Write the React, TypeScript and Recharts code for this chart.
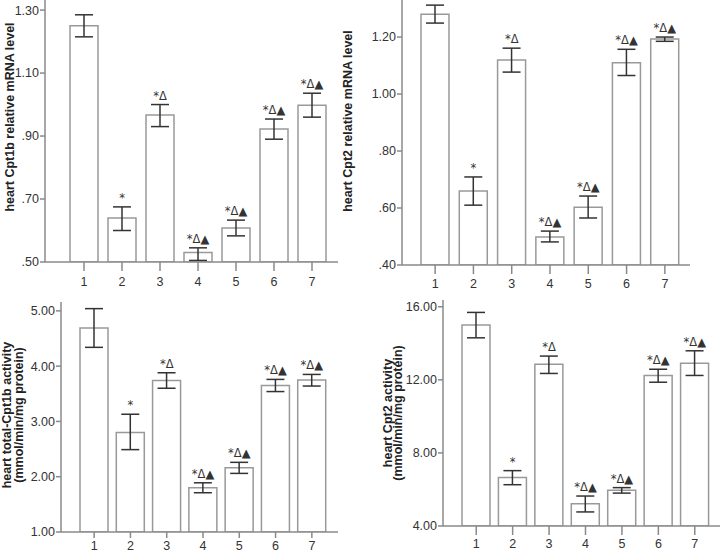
import React from 'react';
import { ComposedChart, Bar, ErrorBar, Line, LabelList, XAxis, YAxis } from 'recharts';

const groups = ['1', '2', '3', '4', '5', '6', '7'];
const marks = ['', '*', '*Δ', '*Δ▲', '*Δ▲', '*Δ▲', '*Δ▲'];

// heart Cpt1b relative mRNA level
const cpt1bMrna = [1.25, 0.64, 0.967, 0.53, 0.608, 0.922, 0.998];
const cpt1bMrnaHigh = [1.285, 0.675, 1.0, 0.545, 0.633, 0.954, 1.036];
const cpt1bMrnaLow = [1.215, 0.6, 0.93, 0.505, 0.583, 0.89, 0.96];
const cpt1bMrnaTicks = [0.5, 0.7, 0.9, 1.1, 1.3];

// heart Cpt2 relative mRNA level
const cpt2Mrna = [1.28, 0.66, 1.119, 0.498, 0.603, 1.11, 1.193];
const cpt2MrnaHigh = [1.312, 0.709, 1.161, 0.519, 0.642, 1.157, 1.2];
const cpt2MrnaLow = [1.249, 0.61, 1.077, 0.481, 0.565, 1.065, 1.185];
const cpt2MrnaTicks = [0.4, 0.6, 0.8, 1.0, 1.2];

// heart total-Cpt1b activity
const cpt1bAct = [4.69, 2.8, 3.74, 1.8, 2.16, 3.65, 3.75];
const cpt1bActHigh = [5.04, 3.13, 3.88, 1.89, 2.26, 3.76, 3.85];
const cpt1bActLow = [4.34, 2.49, 3.6, 1.71, 2.06, 3.54, 3.64];
const cpt1bActTicks = [1, 2, 3, 4, 5];

// heart Cpt2 activity
const cpt2Act = [15.0, 6.65, 12.86, 5.22, 5.95, 12.24, 12.91];
const cpt2ActHigh = [15.69, 7.03, 13.3, 5.64, 6.1, 12.58, 13.59];
const cpt2ActLow = [14.3, 6.26, 12.35, 4.77, 5.8, 11.87, 12.24];
const cpt2ActTicks = [4, 8, 12, 16];

const FONT = '"Liberation Sans", Arial, sans-serif';
const MARK_FONT = '"DejaVu Sans", sans-serif';
const AXIS = '#8a8a8a';

function buildRows(vals: number[], low: number[], high: number[]) {
  return groups.map((g, i) => ({
    g,
    v: vals[i],
    err: [vals[i] - low[i], high[i] - vals[i]],
    hi: high[i],
    mark: marks[i],
  }));
}

const fmtSmall = (v: number) => (v < 1 ? '.' + v.toFixed(2).split('.')[1] : v.toFixed(2));
const fmt2 = (v: number) => v.toFixed(2);

const renderMark = (props: any) => {
  const { x, y, value } = props;
  if (!value) return null;
  return (
    <text x={x} y={y - 5} textAnchor="middle" fontSize={11.5} fill="#333" fontFamily={MARK_FONT}>
      {value}
    </text>
  );
};

interface PanelProps {
  rows: any[];
  box: { left: number; top: number; width: number; height: number };
  margin: { top: number; right: number; bottom: number; left: number };
  yWidth: number;
  xHeight: number;
  pad: { left: number; right: number };
  domain: [number, number];
  ticks: number[];
  fmt: (v: number) => string;
  xTickSize: number;
  xTickMargin: number;
  title: string[];
  titleX: number[];
  titleY: number;
}

function Panel(p: PanelProps) {
  const titleContent = () => (
    <g>
      {p.title.map((t, i) => (
        <text
          key={i}
          x={p.titleX[i]}
          y={p.titleY}
          transform={`rotate(-90, ${p.titleX[i]}, ${p.titleY})`}
          textAnchor="middle"
          dominantBaseline="central"
          fontSize={12.5}
          fontWeight="bold"
          fill="#222"
          fontFamily={FONT}
        >
          {t}
        </text>
      ))}
    </g>
  );

  return (
    <div style={{ position: 'absolute', left: p.box.left, top: p.box.top }}>
      <ComposedChart width={p.box.width} height={p.box.height} data={p.rows} margin={p.margin}>
        <XAxis
          dataKey="g"
          height={p.xHeight}
          padding={p.pad}
          stroke={AXIS}
          strokeWidth={1.5}
          tickSize={p.xTickSize}
          tickMargin={p.xTickMargin}
          tick={{ fontSize: 12.5, fill: '#333', fontFamily: FONT }}
          interval={0}
        />
        <YAxis
          width={p.yWidth}
          domain={p.domain}
          ticks={p.ticks}
          allowDataOverflow
          tickFormatter={p.fmt}
          stroke={AXIS}
          strokeWidth={1.5}
          tickSize={5}
          tickMargin={1}
          tick={{ fontSize: 12.5, fill: '#333', fontFamily: FONT }}
          label={{ content: titleContent }}
        />
        <Bar dataKey="v" fill="#fff" stroke="#999" strokeWidth={1.5} barSize={28} isAnimationActive={false}>
          <ErrorBar dataKey="err" width={9} stroke="#333" strokeWidth={1.5} />
        </Bar>
        <Line dataKey="hi" stroke="none" dot={false} activeDot={false} isAnimationActive={false}>
          <LabelList dataKey="mark" content={renderMark} />
        </Line>
      </ComposedChart>
    </div>
  );
}

export default function App() {
  return (
    <div style={{ position: 'absolute', left: 0, top: 0, width: 720, height: 553, background: '#fff', overflow: 'hidden' }}>
      <Panel
        rows={buildRows(cpt1bMrna, cpt1bMrnaLow, cpt1bMrnaHigh)}
        box={{ left: 0, top: 0, width: 345, height: 300 }}
        margin={{ top: 0, right: 7, bottom: 8, left: 0 }}
        yWidth={45}
        xHeight={30}
        pad={{ left: 20, right: 7 }}
        domain={[0.5, 1.332]}
        ticks={cpt1bMrnaTicks}
        fmt={fmtSmall}
        xTickSize={9}
        xTickMargin={6}
        title={['heart Cpt1b relative mRNA level']}
        titleX={[10]}
        titleY={117}
      />
      <Panel
        rows={buildRows(cpt2Mrna, cpt2MrnaLow, cpt2MrnaHigh)}
        box={{ left: 336, top: 0, width: 384, height: 300 }}
        margin={{ top: 0, right: 30, bottom: 5, left: 0 }}
        yWidth={66}
        xHeight={30}
        pad={{ left: 14, right: 6 }}
        domain={[0.4, 1.33]}
        ticks={cpt2MrnaTicks}
        fmt={fmtSmall}
        xTickSize={9}
        xTickMargin={5}
        title={['heart Cpt2 relative mRNA level']}
        titleX={[12]}
        titleY={121}
      />
      <Panel
        rows={buildRows(cpt1bAct, cpt1bActLow, cpt1bActHigh)}
        box={{ left: 0, top: 290, width: 345, height: 263 }}
        margin={{ top: 12, right: 7, bottom: 0, left: 0 }}
        yWidth={61}
        xHeight={21}
        pad={{ left: 15, right: 8 }}
        domain={[1, 5.16]}
        ticks={cpt1bActTicks}
        fmt={fmt2}
        xTickSize={6}
        xTickMargin={3}
        title={['heart total-Cpt1b activity', '(mmol/min/mg protein)']}
        titleX={[7, 19]}
        titleY={125}
      />
      <Panel
        rows={buildRows(cpt2Act, cpt2ActLow, cpt2ActHigh)}
        box={{ left: 376, top: 288, width: 344, height: 265 }}
        margin={{ top: 12, right: 0, bottom: 0, left: 0 }}
        yWidth={67}
        xHeight={27}
        pad={{ left: 15, right: 7 }}
        domain={[4, 16.37]}
        ticks={cpt2ActTicks}
        fmt={fmt2}
        xTickSize={9}
        xTickMargin={4}
        title={['heart Cpt2 activity', '(mmol/min/mg protein)']}
        titleX={[12, 22]}
        titleY={125}
      />
    </div>
  );
}
